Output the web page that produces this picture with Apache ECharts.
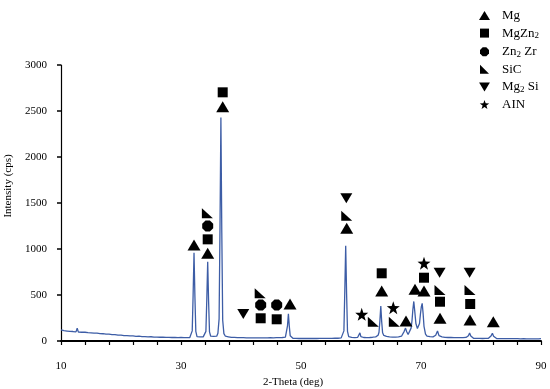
<!DOCTYPE html>
<html><head><meta charset="utf-8">
<script src="https://cdn.jsdelivr.net/npm/echarts@6/dist/echarts.min.js"></script>
<style>html,body{margin:0;padding:0;background:#fff}#c{width:550px;height:389px}</style>
</head><body><div id="c"></div>
<script>
// XRD pattern: [2-theta (deg), intensity (cps)]
const pattern = [
[10,122],[10.25,108],[10.5,112],[10.75,100],[11,108],[11.25,97],[11.5,104],[11.75,95],[12,103],[12.25,92],[12.5,99],[12.7,138],[12.9,96],[13.2,88],[13.5,95],[13.75,86],[14,95],[14.25,83],[14.5,90],[14.75,80],[15,89],[15.25,78],[15.5,85],[15.75,76],[16,85],[16.25,73],[16.5,80],[16.75,70],[17,79],[17.25,67],[17.5,74],[17.75,64],[18,74],[18.25,62],[18.5,69],[18.75,58],[19,69],[19.25,56],[19.5,63],[19.75,54],[20,64],[20.25,51],[20.5,59],[20.75,49],[21,59],[21.25,47],[21.5,55],[21.75,45],[22,55],[22.25,43],[22.5,51],[22.75,42],[23,52],[23.25,40],[23.5,48],[23.75,39],[24,48],[24.25,37],[24.5,45],[24.75,36],[25,46],[25.25,35],[25.5,43],[25.75,34],[26,43],[26.25,33],[26.5,41],[26.75,32],[27,41],[27.25,31],[27.5,39],[27.75,31],[28,40],[28.25,30],[28.5,38],[28.75,30],[29,39],[29.25,30],[29.5,37],[29.75,29],[30,38],[30.25,29],[30.5,36],[30.75,30],[31,37],[31.25,30],[31.45,36],
[31.67,50],[31.87,110],[32.02,500],[32.17,960],[32.32,480],[32.47,105],[32.67,48],
[32.9,36],[33.15,44],[33.4,37],[33.7,45],
[33.95,55],[34.15,105],[34.3,450],[34.45,860],[34.6,430],[34.75,100],[34.95,52],
[35.2,42],[35.45,50],[35.7,43],[35.95,52],
[36.15,85],[36.35,240],[36.5,1230],[36.65,2430],[36.8,1180],[36.95,225],[37.15,80],
[37.4,52],[37.65,42],[37.9,46],[38.15,35],[38.4,40],[38.65,32],[38.9,39],[39.15,30],[39.4,37],[39.65,29],[39.9,37],[40.15,28],[40.4,36],[40.65,28],[40.9,35],[41.15,27],[41.4,35],[41.65,27],[41.9,34],[42.15,27],[42.4,35],[42.65,28],[42.9,35],[43.15,27],[43.4,34],[43.65,27],[43.9,35],[44.15,28],[44.4,34],[44.65,28],[44.9,36],[45.15,28],[45.4,35],[45.65,29],[45.9,37],[46.15,29],[46.4,36],[46.65,30],[46.9,38],[47.15,32],
[47.4,42],[47.6,60],[47.75,165],[47.9,295],[48.05,160],[48.2,58],[48.4,40],
[48.65,30],[48.9,36],[49.15,28],[49.4,35],[49.65,27],[49.9,35],[50.15,27],[50.4,34],[50.65,27],[50.9,35],[51.15,28],[51.4,34],[51.65,27],[51.9,35],[52.15,28],[52.4,34],[52.65,27],[52.9,35],[53.15,28],[53.4,35],[53.65,28],[53.9,36],[54.15,28],[54.4,35],[54.65,29],[54.9,36],[55.15,29],[55.4,36],[55.65,30],[55.9,37],[56.15,30],[56.4,37],[56.7,34],
[56.95,50],[57.15,110],[57.3,540],[57.45,1035],[57.6,510],[57.75,105],[57.95,48],
[58.2,33],[58.45,39],[58.7,30],[58.95,37],[59.2,31],[59.45,40],[59.65,50],[59.82,88],[59.98,48],[60.2,32],[60.45,38],[60.7,30],[60.95,37],[61.2,31],[61.45,38],[61.7,33],[61.95,41],[62.2,36],[62.45,45],[62.65,44],
[62.85,62],[63.0,95],[63.15,220],[63.3,380],[63.45,210],[63.6,90],[63.8,60],
[64.0,44],[64.25,50],[64.5,38],[64.75,44],[65.0,35],[65.25,42],[65.5,35],[65.75,43],[66.0,36],[66.25,44],[66.5,40],[66.75,52],[66.95,62],[67.2,105],[67.42,140],[67.62,100],[67.85,70],[68.1,85],
[68.35,140],[68.5,220],[68.65,345],[68.8,430],[68.95,330],[69.15,190],[69.4,135],[69.55,140],
[69.75,190],[69.9,290],[70.05,370],[70.2,410],[70.35,300],[70.5,160],[70.75,75],[71.0,52],
[71.25,40],[71.5,47],[71.75,38],[72.0,45],[72.2,42],[72.45,62],[72.75,108],[73.0,58],[73.25,40],[73.5,45],[73.75,33],[74.0,40],[74.25,31],[74.5,38],[74.75,30],[75.0,38],[75.25,30],[75.5,37],[75.75,29],[76.0,37],[76.25,29],[76.5,36],[76.75,30],[77.0,36],[77.25,30],[77.5,39],[77.7,40],[77.9,58],[78.1,88],[78.3,55],[78.5,36],
[78.75,29],[79.0,36],[79.25,28],[79.5,35],[79.75,28],[80.0,35],[80.25,27],[80.5,34],[80.75,28],[81.0,35],[81.25,30],[81.5,40],[81.7,58],[81.9,84],[82.1,52],[82.35,32],
[82.6,27],[82.85,34],[83.1,26],[83.35,33],[83.6,26],[83.85,33],[84.1,25],[84.35,33],[84.6,26],[84.85,32],[85.1,25],[85.35,32],[85.6,25],[85.85,32],[86.1,25],[86.35,31],[86.6,24],[86.85,31],[87.1,25],[87.35,31],[87.6,24],[87.85,31],[88.1,24],[88.35,30],[88.6,24],[88.85,30],[89.1,24],[89.35,30],[89.6,23],[89.85,29],[90,26]
];

// Tick positions / labels
const xTickValues = [10,14,18,22,26,30,34,38,42,46,50,54,58,62,66,70,74,78,82,86,90];
const xLabelValues = [10,30,50,70,90];
const yMin = 0, yMax = 3000, yStep = 500;

// Phase identification marks: [2-theta, height (cps)]
const mgMarks    = [[32.17,1043],[34.45,953],[36.95,2547],[48.17,402],[57.62,1225],[63.45,543],[67.5,217],[69.0,562],[70.5,543],[73.17,247],[78.17,228],[82.05,210]];
const mgzn2Marks = [[34.45,1105],[36.95,2703],[43.28,247],[45.95,236],[63.45,736],[70.5,688],[73.17,427],[78.2,402]];
const zn2zrMarks = [[34.45,1250],[43.28,391],[45.95,391]];
const sicMarks   = [[34.4,1388],[43.2,518],[57.62,1362],[62.05,210],[65.55,210],[73.17,554],[78.17,554]];
const mg2siMarks = [[40.38,293],[57.55,1551],[73.1,742],[78.1,742]];
const alnMarks   = [[60.12,290],[65.38,362],[70.5,845]];

const phaseLabels = {
  'Mg':'{n|Mg}', 'MgZn2':'{n|MgZn}{s|2}', 'Zn2Zr':'{n|Zn}{s|2}{n| Zr}',
  'SiC':'{n|SiC}', 'Mg2Si':'{n|Mg}{s|2}{n| Si}', 'AIN':'{n|AIN}'
};

const octagon = 'path://M3,0L7,0L10,3L10,7L7,10L3,10L0,7L0,3Z';
const rightTri = 'path://M0,0L10,10L0,10Z';
const downTri = 'path://M0,0L12,0L6,10Z';
const star = 'path://M10,0L12.35,6.76L19.51,6.91L13.8,11.24L15.88,18.09L10,14L4.12,18.09L6.2,11.24L0.49,6.91L7.65,6.76Z';

const serif = "'Liberation Serif','Times New Roman',serif";
const chart = echarts.init(document.getElementById('c'), null, {renderer:'canvas'});

function marks(name, data, symbol, size){
  return {name, type:'scatter', data, symbol, symbolSize:size, symbolKeepAspect:false,
    itemStyle:{color:'#000', opacity:1}, z:5, silent:true, animation:false};
}

chart.setOption({
  animation:false,
  backgroundColor:'#fff',
  grid:{left:61, right:9, top:65, bottom:48, containLabel:false, outerBoundsMode:'none'},
  legend:{
    orient:'vertical', left:474, top:4, itemWidth:11, itemHeight:9, itemGap:3.6,
    selectedMode:false,
    data:[
      {name:'Mg', icon:'triangle'},
      {name:'MgZn2', icon:'path://M0,0h8v8h-8z'},
      {name:'Zn2Zr', icon:octagon},
      {name:'SiC', icon:rightTri},
      {name:'Mg2Si', icon:downTri},
      {name:'AIN', icon:star}
    ],
    formatter: n => phaseLabels[n],
    textStyle:{
      color:'#000', fontFamily:serif, fontSize:13, padding:[0,0,0,7],
      rich:{
        n:{fontFamily:serif, fontSize:13, color:'#000', lineHeight:16},
        s:{fontFamily:serif, fontSize:9, color:'#000', lineHeight:16, padding:[6,0,0,0]}
      }
    }
  },
  xAxis:{
    type:'value', min:10, max:90,
    name:'2-Theta (deg)', nameLocation:'middle', nameGap:34,
    nameTextStyle:{fontFamily:serif, fontSize:11, color:'#000', padding:[0,16,0,0]},
    axisLine:{lineStyle:{color:'#000', width:2}},
    axisTick:{show:true, length:4, lineStyle:{color:'#000', width:1.2}, customValues:xTickValues},
    axisLabel:{fontFamily:serif, fontSize:11, color:'#000', margin:20, customValues:xLabelValues},
    splitLine:{show:false}
  },
  yAxis:{
    type:'value', min:yMin, max:yMax, interval:yStep,
    name:'Intensity (cps)', nameLocation:'middle', nameGap:45, nameRotate:90,
    nameTextStyle:{fontFamily:serif, fontSize:11, color:'#000', padding:[0,0,0,34]},
    axisLine:{show:true, lineStyle:{color:'#000', width:1.2}},
    axisTick:{show:true, length:4, lineStyle:{color:'#000', width:1.5}},
    axisLabel:{fontFamily:serif, fontSize:11, color:'#000', margin:14, formatter: v => String(v)},
    splitLine:{show:false}
  },
  series:[
    {name:'pattern', type:'line', data:pattern, showSymbol:false, symbol:'none',
     lineStyle:{color:'#3d5da6', width:1.3}, z:2, silent:true, animation:false},
    marks('Mg', mgMarks, 'triangle', [13,11]),
    marks('MgZn2', mgzn2Marks, 'rect', [10,10]),
    marks('Zn2Zr', zn2zrMarks, octagon, [11,11]),
    marks('SiC', sicMarks, rightTri, [11,10]),
    marks('Mg2Si', mg2siMarks, downTri, [12,10]),
    marks('AIN', alnMarks, star, [13,13])
  ]
});
</script></body></html>
